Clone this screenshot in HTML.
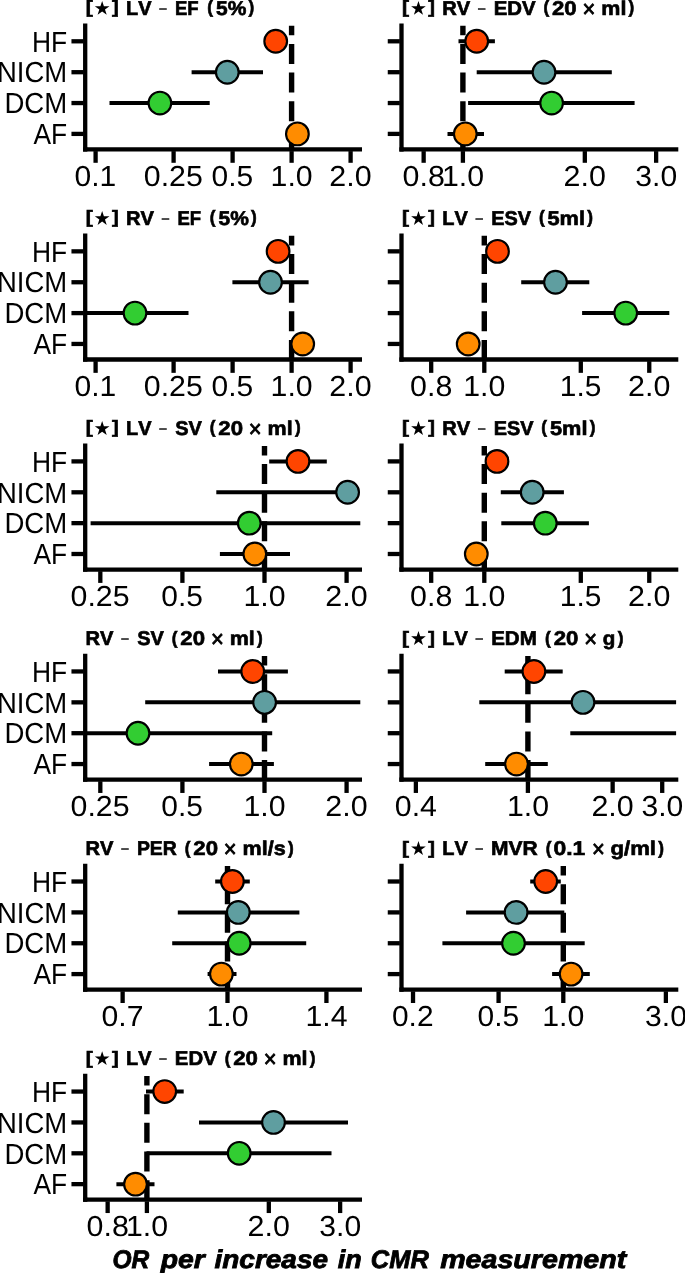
<!DOCTYPE html>
<html><head><meta charset="utf-8"><title>Forest plots</title>
<style>
html,body{margin:0;padding:0;background:#fff;}
svg{display:block;will-change:transform;}
text{font-family:"Liberation Sans",sans-serif;fill:#000;font-kerning:none;text-rendering:geometricPrecision;}
</style></head><body>
<svg width="685" height="1273" viewBox="0 0 685 1273">
<rect width="685" height="1273" fill="#fff"/>
<g>
<line x1="291.60" y1="149.90" x2="291.60" y2="25.80" stroke="#000" stroke-width="5.4" stroke-dasharray="20 8.64"/>
<clipPath id="c00"><rect x="85.20" y="20.00" width="276.80" height="135"/></clipPath>
<g clip-path="url(#c00)">
<line x1="191.60" y1="72.20" x2="263.00" y2="72.20" stroke="#000" stroke-width="4.0"/>
<line x1="109.50" y1="103.05" x2="209.70" y2="103.05" stroke="#000" stroke-width="4.0"/>
<circle cx="275.70" cy="41.30" r="11.35" fill="#ff4500" stroke="#000" stroke-width="2.15"/>
<circle cx="227.30" cy="72.20" r="11.35" fill="#5f9ea0" stroke="#000" stroke-width="2.15"/>
<circle cx="159.90" cy="103.05" r="11.35" fill="#32cd32" stroke="#000" stroke-width="2.15"/>
<circle cx="297.40" cy="133.90" r="11.35" fill="#ff8c00" stroke="#000" stroke-width="2.15"/>
</g>
<path d="M85.20 23.50V149.45H362.00" fill="none" stroke="#000" stroke-width="4.3" stroke-linecap="butt" stroke-linejoin="miter"/>
<rect x="83.05" y="147.30" width="4.3" height="4.3" fill="#000"/>
<line x1="71.45" y1="41.30" x2="83.55" y2="41.30" stroke="#000" stroke-width="4.3"/>
<text transform="translate(31.88,51.50) scale(0.9126,1)" font-size="28.93">HF</text>
<line x1="71.45" y1="72.20" x2="83.55" y2="72.20" stroke="#000" stroke-width="4.3"/>
<text transform="translate(-3.07,82.40) scale(0.9505,1)" font-size="28.93">NICM</text>
<line x1="71.45" y1="103.05" x2="83.55" y2="103.05" stroke="#000" stroke-width="4.3"/>
<text transform="translate(4.38,113.25) scale(0.9536,1)" font-size="28.93">DCM</text>
<line x1="71.45" y1="133.90" x2="83.55" y2="133.90" stroke="#000" stroke-width="4.3"/>
<text transform="translate(33.38,144.10) scale(0.9113,1)" font-size="28.93">AF</text>
<line x1="95.60" y1="151.10" x2="95.60" y2="162.80" stroke="#000" stroke-width="4.3"/>
<text transform="translate(74.52,185.90) scale(1.0379,1)" font-size="28.93">0.1</text>
<line x1="173.60" y1="151.10" x2="173.60" y2="162.80" stroke="#000" stroke-width="4.3"/>
<text transform="translate(143.82,185.90) scale(1.0490,1)" font-size="28.93">0.25</text>
<line x1="232.60" y1="151.10" x2="232.60" y2="162.80" stroke="#000" stroke-width="4.3"/>
<text transform="translate(211.52,185.90) scale(1.0360,1)" font-size="28.93">0.5</text>
<line x1="291.60" y1="151.10" x2="291.60" y2="162.80" stroke="#000" stroke-width="4.3"/>
<text transform="translate(270.58,185.90) scale(1.0468,1)" font-size="28.93">1.0</text>
<line x1="350.60" y1="151.10" x2="350.60" y2="162.80" stroke="#000" stroke-width="4.3"/>
<text transform="translate(329.36,185.90) scale(1.0525,1)" font-size="28.93">2.0</text>
<text transform="translate(85.64,13.35) scale(1.1715,1)" font-size="17.94" font-weight="bold" stroke="#000" stroke-width="0.64">[</text>
<text transform="translate(112.01,13.35) scale(1.1139,1)" font-size="17.94" font-weight="bold" stroke="#000" stroke-width="0.64">]</text>
<polygon points="94.80,6.21 100.41,6.21 102.15,0.88 103.90,6.21 109.50,6.21 104.97,9.51 106.71,14.83 102.15,11.54 97.60,14.83 99.33,9.51" fill="#000"/>
<text transform="translate(125.98,14.60) scale(1.0035,1)" font-size="19.87" font-weight="bold" stroke="#000" stroke-width="0.64">LV</text>
<text transform="translate(159.23,13.90) scale(0.6742,1)" font-size="19.87" stroke="#000" stroke-width="0.15">–</text>
<text transform="translate(174.94,14.60) scale(0.9313,1)" font-size="19.87" font-weight="bold" stroke="#000" stroke-width="0.64">EF</text>
<text transform="translate(207.37,13.35) scale(0.9570,1)" font-size="17.94" font-weight="bold" stroke="#000" stroke-width="0.64">(</text>
<text transform="translate(216.02,14.60) scale(1.0558,1)" font-size="19.87" font-weight="bold" stroke="#000" stroke-width="0.64">5%</text>
<text transform="translate(248.50,13.35) scale(0.9570,1)" font-size="17.94" font-weight="bold" stroke="#000" stroke-width="0.64">)</text>
</g>
<g>
<line x1="462.90" y1="149.90" x2="462.90" y2="25.80" stroke="#000" stroke-width="5.4" stroke-dasharray="20 8.64"/>
<clipPath id="c01"><rect x="401.50" y="20.00" width="276.80" height="135"/></clipPath>
<g clip-path="url(#c01)">
<line x1="458.50" y1="41.30" x2="494.90" y2="41.30" stroke="#000" stroke-width="4.0"/>
<line x1="476.70" y1="72.20" x2="611.80" y2="72.20" stroke="#000" stroke-width="4.0"/>
<line x1="468.10" y1="103.05" x2="634.60" y2="103.05" stroke="#000" stroke-width="4.0"/>
<line x1="447.50" y1="133.90" x2="484.00" y2="133.90" stroke="#000" stroke-width="4.0"/>
<circle cx="476.70" cy="41.30" r="11.35" fill="#ff4500" stroke="#000" stroke-width="2.15"/>
<circle cx="544.00" cy="72.20" r="11.35" fill="#5f9ea0" stroke="#000" stroke-width="2.15"/>
<circle cx="551.60" cy="103.05" r="11.35" fill="#32cd32" stroke="#000" stroke-width="2.15"/>
<circle cx="465.30" cy="133.90" r="11.35" fill="#ff8c00" stroke="#000" stroke-width="2.15"/>
</g>
<path d="M401.50 23.50V149.45H678.30" fill="none" stroke="#000" stroke-width="4.3" stroke-linecap="butt" stroke-linejoin="miter"/>
<rect x="399.35" y="147.30" width="4.3" height="4.3" fill="#000"/>
<line x1="387.75" y1="41.30" x2="399.85" y2="41.30" stroke="#000" stroke-width="4.3"/>
<line x1="387.75" y1="72.20" x2="399.85" y2="72.20" stroke="#000" stroke-width="4.3"/>
<line x1="387.75" y1="103.05" x2="399.85" y2="103.05" stroke="#000" stroke-width="4.3"/>
<line x1="387.75" y1="133.90" x2="399.85" y2="133.90" stroke="#000" stroke-width="4.3"/>
<line x1="423.65" y1="151.10" x2="423.65" y2="162.80" stroke="#000" stroke-width="4.3"/>
<text transform="translate(402.56,185.90) scale(1.0509,1)" font-size="28.93">0.8</text>
<line x1="462.90" y1="151.10" x2="462.90" y2="162.80" stroke="#000" stroke-width="4.3"/>
<text transform="translate(441.88,185.90) scale(1.0468,1)" font-size="28.93">1.0</text>
<line x1="584.82" y1="151.10" x2="584.82" y2="162.80" stroke="#000" stroke-width="4.3"/>
<text transform="translate(563.58,185.90) scale(1.0525,1)" font-size="28.93">2.0</text>
<line x1="656.13" y1="151.10" x2="656.13" y2="162.80" stroke="#000" stroke-width="4.3"/>
<text transform="translate(635.36,185.90) scale(1.0406,1)" font-size="28.93">3.0</text>
<text transform="translate(401.94,13.35) scale(1.1715,1)" font-size="17.94" font-weight="bold" stroke="#000" stroke-width="0.64">[</text>
<text transform="translate(428.31,13.35) scale(1.1139,1)" font-size="17.94" font-weight="bold" stroke="#000" stroke-width="0.64">]</text>
<polygon points="411.10,6.21 416.71,6.21 418.45,0.88 420.20,6.21 425.80,6.21 421.27,9.51 423.01,14.83 418.45,11.54 413.90,14.83 415.63,9.51" fill="#000"/>
<text transform="translate(442.27,14.60) scale(1.0136,1)" font-size="19.87" font-weight="bold" stroke="#000" stroke-width="0.64">RV</text>
<text transform="translate(478.02,13.90) scale(0.6742,1)" font-size="19.87" stroke="#000" stroke-width="0.15">–</text>
<text transform="translate(493.64,14.60) scale(1.0262,1)" font-size="19.87" font-weight="bold" stroke="#000" stroke-width="0.64">EDV</text>
<text transform="translate(543.43,13.35) scale(0.9570,1)" font-size="17.94" font-weight="bold" stroke="#000" stroke-width="0.64">(</text>
<text transform="translate(552.01,14.60) scale(1.1168,1)" font-size="19.87" font-weight="bold" stroke="#000" stroke-width="0.64">20</text>
<text transform="translate(582.52,16.90) scale(0.9116,1)" font-size="24.00" stroke="#000" stroke-width="0.90">×</text>
<text transform="translate(601.28,14.60) scale(1.0818,1)" font-size="19.87" font-weight="bold" stroke="#000" stroke-width="0.64">ml</text>
<text transform="translate(628.55,13.35) scale(0.9570,1)" font-size="17.94" font-weight="bold" stroke="#000" stroke-width="0.64">)</text>
</g>
<g>
<line x1="291.60" y1="359.95" x2="291.60" y2="235.85" stroke="#000" stroke-width="5.4" stroke-dasharray="20 8.64"/>
<clipPath id="c10"><rect x="85.20" y="230.05" width="276.80" height="135"/></clipPath>
<g clip-path="url(#c10)">
<line x1="232.40" y1="282.25" x2="308.60" y2="282.25" stroke="#000" stroke-width="4.0"/>
<line x1="60.00" y1="313.10" x2="188.50" y2="313.10" stroke="#000" stroke-width="4.0"/>
<circle cx="278.10" cy="251.35" r="11.35" fill="#ff4500" stroke="#000" stroke-width="2.15"/>
<circle cx="270.50" cy="282.25" r="11.35" fill="#5f9ea0" stroke="#000" stroke-width="2.15"/>
<circle cx="135.00" cy="313.10" r="11.35" fill="#32cd32" stroke="#000" stroke-width="2.15"/>
<circle cx="302.70" cy="343.95" r="11.35" fill="#ff8c00" stroke="#000" stroke-width="2.15"/>
</g>
<path d="M85.20 233.55V359.50H362.00" fill="none" stroke="#000" stroke-width="4.3" stroke-linecap="butt" stroke-linejoin="miter"/>
<rect x="83.05" y="357.35" width="4.3" height="4.3" fill="#000"/>
<line x1="71.45" y1="251.35" x2="83.55" y2="251.35" stroke="#000" stroke-width="4.3"/>
<text transform="translate(31.88,261.55) scale(0.9126,1)" font-size="28.93">HF</text>
<line x1="71.45" y1="282.25" x2="83.55" y2="282.25" stroke="#000" stroke-width="4.3"/>
<text transform="translate(-3.07,292.45) scale(0.9505,1)" font-size="28.93">NICM</text>
<line x1="71.45" y1="313.10" x2="83.55" y2="313.10" stroke="#000" stroke-width="4.3"/>
<text transform="translate(4.38,323.30) scale(0.9536,1)" font-size="28.93">DCM</text>
<line x1="71.45" y1="343.95" x2="83.55" y2="343.95" stroke="#000" stroke-width="4.3"/>
<text transform="translate(33.38,354.15) scale(0.9113,1)" font-size="28.93">AF</text>
<line x1="95.60" y1="361.15" x2="95.60" y2="372.85" stroke="#000" stroke-width="4.3"/>
<text transform="translate(74.52,395.95) scale(1.0379,1)" font-size="28.93">0.1</text>
<line x1="173.60" y1="361.15" x2="173.60" y2="372.85" stroke="#000" stroke-width="4.3"/>
<text transform="translate(143.82,395.95) scale(1.0490,1)" font-size="28.93">0.25</text>
<line x1="232.60" y1="361.15" x2="232.60" y2="372.85" stroke="#000" stroke-width="4.3"/>
<text transform="translate(211.52,395.95) scale(1.0360,1)" font-size="28.93">0.5</text>
<line x1="291.60" y1="361.15" x2="291.60" y2="372.85" stroke="#000" stroke-width="4.3"/>
<text transform="translate(270.58,395.95) scale(1.0468,1)" font-size="28.93">1.0</text>
<line x1="350.60" y1="361.15" x2="350.60" y2="372.85" stroke="#000" stroke-width="4.3"/>
<text transform="translate(329.36,395.95) scale(1.0525,1)" font-size="28.93">2.0</text>
<text transform="translate(85.64,223.40) scale(1.1715,1)" font-size="17.94" font-weight="bold" stroke="#000" stroke-width="0.64">[</text>
<text transform="translate(112.01,223.40) scale(1.1139,1)" font-size="17.94" font-weight="bold" stroke="#000" stroke-width="0.64">]</text>
<polygon points="94.80,216.26 100.41,216.26 102.15,210.93 103.90,216.26 109.50,216.26 104.97,219.56 106.71,224.88 102.15,221.59 97.60,224.88 99.33,219.56" fill="#000"/>
<text transform="translate(125.97,224.65) scale(1.0136,1)" font-size="19.87" font-weight="bold" stroke="#000" stroke-width="0.64">RV</text>
<text transform="translate(161.72,223.95) scale(0.6742,1)" font-size="19.87" stroke="#000" stroke-width="0.15">–</text>
<text transform="translate(177.44,224.65) scale(0.9313,1)" font-size="19.87" font-weight="bold" stroke="#000" stroke-width="0.64">EF</text>
<text transform="translate(209.86,223.40) scale(0.9570,1)" font-size="17.94" font-weight="bold" stroke="#000" stroke-width="0.64">(</text>
<text transform="translate(218.51,224.65) scale(1.0558,1)" font-size="19.87" font-weight="bold" stroke="#000" stroke-width="0.64">5%</text>
<text transform="translate(250.99,223.40) scale(0.9570,1)" font-size="17.94" font-weight="bold" stroke="#000" stroke-width="0.64">)</text>
</g>
<g>
<line x1="484.30" y1="359.95" x2="484.30" y2="235.85" stroke="#000" stroke-width="5.4" stroke-dasharray="20 8.64"/>
<clipPath id="c11"><rect x="401.50" y="230.05" width="276.80" height="135"/></clipPath>
<g clip-path="url(#c11)">
<line x1="521.20" y1="282.25" x2="589.30" y2="282.25" stroke="#000" stroke-width="4.0"/>
<line x1="582.10" y1="313.10" x2="669.30" y2="313.10" stroke="#000" stroke-width="4.0"/>
<circle cx="497.50" cy="251.35" r="11.35" fill="#ff4500" stroke="#000" stroke-width="2.15"/>
<circle cx="555.50" cy="282.25" r="11.35" fill="#5f9ea0" stroke="#000" stroke-width="2.15"/>
<circle cx="625.70" cy="313.10" r="11.35" fill="#32cd32" stroke="#000" stroke-width="2.15"/>
<circle cx="468.20" cy="343.95" r="11.35" fill="#ff8c00" stroke="#000" stroke-width="2.15"/>
</g>
<path d="M401.50 233.55V359.50H678.30" fill="none" stroke="#000" stroke-width="4.3" stroke-linecap="butt" stroke-linejoin="miter"/>
<rect x="399.35" y="357.35" width="4.3" height="4.3" fill="#000"/>
<line x1="387.75" y1="251.35" x2="399.85" y2="251.35" stroke="#000" stroke-width="4.3"/>
<line x1="387.75" y1="282.25" x2="399.85" y2="282.25" stroke="#000" stroke-width="4.3"/>
<line x1="387.75" y1="313.10" x2="399.85" y2="313.10" stroke="#000" stroke-width="4.3"/>
<line x1="387.75" y1="343.95" x2="399.85" y2="343.95" stroke="#000" stroke-width="4.3"/>
<line x1="431.19" y1="361.15" x2="431.19" y2="372.85" stroke="#000" stroke-width="4.3"/>
<text transform="translate(410.10,395.95) scale(1.0509,1)" font-size="28.93">0.8</text>
<line x1="484.30" y1="361.15" x2="484.30" y2="372.85" stroke="#000" stroke-width="4.3"/>
<text transform="translate(463.28,395.95) scale(1.0468,1)" font-size="28.93">1.0</text>
<line x1="580.80" y1="361.15" x2="580.80" y2="372.85" stroke="#000" stroke-width="4.3"/>
<text transform="translate(559.81,395.95) scale(1.0336,1)" font-size="28.93">1.5</text>
<line x1="649.26" y1="361.15" x2="649.26" y2="372.85" stroke="#000" stroke-width="4.3"/>
<text transform="translate(628.02,395.95) scale(1.0525,1)" font-size="28.93">2.0</text>
<text transform="translate(401.94,223.40) scale(1.1715,1)" font-size="17.94" font-weight="bold" stroke="#000" stroke-width="0.64">[</text>
<text transform="translate(428.31,223.40) scale(1.1139,1)" font-size="17.94" font-weight="bold" stroke="#000" stroke-width="0.64">]</text>
<polygon points="411.10,216.26 416.71,216.26 418.45,210.93 420.20,216.26 425.80,216.26 421.27,219.56 423.01,224.88 418.45,221.59 413.90,224.88 415.63,219.56" fill="#000"/>
<text transform="translate(442.28,224.65) scale(1.0035,1)" font-size="19.87" font-weight="bold" stroke="#000" stroke-width="0.64">LV</text>
<text transform="translate(475.53,223.95) scale(0.6742,1)" font-size="19.87" stroke="#000" stroke-width="0.15">–</text>
<text transform="translate(491.17,224.65) scale(1.0022,1)" font-size="19.87" font-weight="bold" stroke="#000" stroke-width="0.64">ESV</text>
<text transform="translate(538.88,223.40) scale(0.9570,1)" font-size="17.94" font-weight="bold" stroke="#000" stroke-width="0.64">(</text>
<text transform="translate(547.51,224.65) scale(1.0954,1)" font-size="19.87" font-weight="bold" stroke="#000" stroke-width="0.64">5ml</text>
<text transform="translate(587.19,223.40) scale(0.9570,1)" font-size="17.94" font-weight="bold" stroke="#000" stroke-width="0.64">)</text>
</g>
<g>
<line x1="264.50" y1="570.00" x2="264.50" y2="445.90" stroke="#000" stroke-width="5.4" stroke-dasharray="20 8.64"/>
<clipPath id="c20"><rect x="85.20" y="440.10" width="276.80" height="135"/></clipPath>
<g clip-path="url(#c20)">
<line x1="269.20" y1="461.40" x2="326.80" y2="461.40" stroke="#000" stroke-width="4.0"/>
<line x1="216.30" y1="492.30" x2="347.60" y2="492.30" stroke="#000" stroke-width="4.0"/>
<line x1="90.60" y1="523.15" x2="360.30" y2="523.15" stroke="#000" stroke-width="4.0"/>
<line x1="219.90" y1="554.00" x2="290.00" y2="554.00" stroke="#000" stroke-width="4.0"/>
<circle cx="298.00" cy="461.40" r="11.35" fill="#ff4500" stroke="#000" stroke-width="2.15"/>
<circle cx="347.60" cy="492.30" r="11.35" fill="#5f9ea0" stroke="#000" stroke-width="2.15"/>
<circle cx="249.30" cy="523.15" r="11.35" fill="#32cd32" stroke="#000" stroke-width="2.15"/>
<circle cx="254.80" cy="554.00" r="11.35" fill="#ff8c00" stroke="#000" stroke-width="2.15"/>
</g>
<path d="M85.20 443.60V569.55H362.00" fill="none" stroke="#000" stroke-width="4.3" stroke-linecap="butt" stroke-linejoin="miter"/>
<rect x="83.05" y="567.40" width="4.3" height="4.3" fill="#000"/>
<line x1="71.45" y1="461.40" x2="83.55" y2="461.40" stroke="#000" stroke-width="4.3"/>
<text transform="translate(31.88,471.60) scale(0.9126,1)" font-size="28.93">HF</text>
<line x1="71.45" y1="492.30" x2="83.55" y2="492.30" stroke="#000" stroke-width="4.3"/>
<text transform="translate(-3.07,502.50) scale(0.9505,1)" font-size="28.93">NICM</text>
<line x1="71.45" y1="523.15" x2="83.55" y2="523.15" stroke="#000" stroke-width="4.3"/>
<text transform="translate(4.38,533.35) scale(0.9536,1)" font-size="28.93">DCM</text>
<line x1="71.45" y1="554.00" x2="83.55" y2="554.00" stroke="#000" stroke-width="4.3"/>
<text transform="translate(33.38,564.20) scale(0.9113,1)" font-size="28.93">AF</text>
<line x1="100.32" y1="571.20" x2="100.32" y2="582.90" stroke="#000" stroke-width="4.3"/>
<text transform="translate(70.54,606.00) scale(1.0490,1)" font-size="28.93">0.25</text>
<line x1="182.41" y1="571.20" x2="182.41" y2="582.90" stroke="#000" stroke-width="4.3"/>
<text transform="translate(161.33,606.00) scale(1.0360,1)" font-size="28.93">0.5</text>
<line x1="264.50" y1="571.20" x2="264.50" y2="582.90" stroke="#000" stroke-width="4.3"/>
<text transform="translate(243.48,606.00) scale(1.0468,1)" font-size="28.93">1.0</text>
<line x1="346.59" y1="571.20" x2="346.59" y2="582.90" stroke="#000" stroke-width="4.3"/>
<text transform="translate(325.35,606.00) scale(1.0525,1)" font-size="28.93">2.0</text>
<text transform="translate(85.64,433.45) scale(1.1715,1)" font-size="17.94" font-weight="bold" stroke="#000" stroke-width="0.64">[</text>
<text transform="translate(112.01,433.45) scale(1.1139,1)" font-size="17.94" font-weight="bold" stroke="#000" stroke-width="0.64">]</text>
<polygon points="94.80,426.31 100.41,426.31 102.15,420.98 103.90,426.31 109.50,426.31 104.97,429.61 106.71,434.93 102.15,431.64 97.60,434.93 99.33,429.61" fill="#000"/>
<text transform="translate(125.98,434.70) scale(1.0035,1)" font-size="19.87" font-weight="bold" stroke="#000" stroke-width="0.64">LV</text>
<text transform="translate(159.23,434.00) scale(0.6742,1)" font-size="19.87" stroke="#000" stroke-width="0.15">–</text>
<text transform="translate(175.26,434.70) scale(1.0055,1)" font-size="19.87" font-weight="bold" stroke="#000" stroke-width="0.64">SV</text>
<text transform="translate(209.77,433.45) scale(0.9570,1)" font-size="17.94" font-weight="bold" stroke="#000" stroke-width="0.64">(</text>
<text transform="translate(218.35,434.70) scale(1.1168,1)" font-size="19.87" font-weight="bold" stroke="#000" stroke-width="0.64">20</text>
<text transform="translate(248.86,437.00) scale(0.9116,1)" font-size="24.00" stroke="#000" stroke-width="0.90">×</text>
<text transform="translate(267.62,434.70) scale(1.0818,1)" font-size="19.87" font-weight="bold" stroke="#000" stroke-width="0.64">ml</text>
<text transform="translate(294.89,433.45) scale(0.9570,1)" font-size="17.94" font-weight="bold" stroke="#000" stroke-width="0.64">)</text>
</g>
<g>
<line x1="484.30" y1="570.00" x2="484.30" y2="445.90" stroke="#000" stroke-width="5.4" stroke-dasharray="20 8.64"/>
<clipPath id="c21"><rect x="401.50" y="440.10" width="276.80" height="135"/></clipPath>
<g clip-path="url(#c21)">
<line x1="500.80" y1="492.30" x2="563.90" y2="492.30" stroke="#000" stroke-width="4.0"/>
<line x1="501.30" y1="523.15" x2="588.90" y2="523.15" stroke="#000" stroke-width="4.0"/>
<circle cx="497.00" cy="461.40" r="11.35" fill="#ff4500" stroke="#000" stroke-width="2.15"/>
<circle cx="532.20" cy="492.30" r="11.35" fill="#5f9ea0" stroke="#000" stroke-width="2.15"/>
<circle cx="545.30" cy="523.15" r="11.35" fill="#32cd32" stroke="#000" stroke-width="2.15"/>
<circle cx="476.30" cy="554.00" r="11.35" fill="#ff8c00" stroke="#000" stroke-width="2.15"/>
</g>
<path d="M401.50 443.60V569.55H678.30" fill="none" stroke="#000" stroke-width="4.3" stroke-linecap="butt" stroke-linejoin="miter"/>
<rect x="399.35" y="567.40" width="4.3" height="4.3" fill="#000"/>
<line x1="387.75" y1="461.40" x2="399.85" y2="461.40" stroke="#000" stroke-width="4.3"/>
<line x1="387.75" y1="492.30" x2="399.85" y2="492.30" stroke="#000" stroke-width="4.3"/>
<line x1="387.75" y1="523.15" x2="399.85" y2="523.15" stroke="#000" stroke-width="4.3"/>
<line x1="387.75" y1="554.00" x2="399.85" y2="554.00" stroke="#000" stroke-width="4.3"/>
<line x1="431.19" y1="571.20" x2="431.19" y2="582.90" stroke="#000" stroke-width="4.3"/>
<text transform="translate(410.10,606.00) scale(1.0509,1)" font-size="28.93">0.8</text>
<line x1="484.30" y1="571.20" x2="484.30" y2="582.90" stroke="#000" stroke-width="4.3"/>
<text transform="translate(463.28,606.00) scale(1.0468,1)" font-size="28.93">1.0</text>
<line x1="580.80" y1="571.20" x2="580.80" y2="582.90" stroke="#000" stroke-width="4.3"/>
<text transform="translate(559.81,606.00) scale(1.0336,1)" font-size="28.93">1.5</text>
<line x1="649.26" y1="571.20" x2="649.26" y2="582.90" stroke="#000" stroke-width="4.3"/>
<text transform="translate(628.02,606.00) scale(1.0525,1)" font-size="28.93">2.0</text>
<text transform="translate(401.94,433.45) scale(1.1715,1)" font-size="17.94" font-weight="bold" stroke="#000" stroke-width="0.64">[</text>
<text transform="translate(428.31,433.45) scale(1.1139,1)" font-size="17.94" font-weight="bold" stroke="#000" stroke-width="0.64">]</text>
<polygon points="411.10,426.31 416.71,426.31 418.45,420.98 420.20,426.31 425.80,426.31 421.27,429.61 423.01,434.93 418.45,431.64 413.90,434.93 415.63,429.61" fill="#000"/>
<text transform="translate(442.27,434.70) scale(1.0136,1)" font-size="19.87" font-weight="bold" stroke="#000" stroke-width="0.64">RV</text>
<text transform="translate(478.02,434.00) scale(0.6742,1)" font-size="19.87" stroke="#000" stroke-width="0.15">–</text>
<text transform="translate(493.66,434.70) scale(1.0022,1)" font-size="19.87" font-weight="bold" stroke="#000" stroke-width="0.64">ESV</text>
<text transform="translate(541.37,433.45) scale(0.9570,1)" font-size="17.94" font-weight="bold" stroke="#000" stroke-width="0.64">(</text>
<text transform="translate(550.00,434.70) scale(1.0954,1)" font-size="19.87" font-weight="bold" stroke="#000" stroke-width="0.64">5ml</text>
<text transform="translate(589.68,433.45) scale(0.9570,1)" font-size="17.94" font-weight="bold" stroke="#000" stroke-width="0.64">)</text>
</g>
<g>
<line x1="264.50" y1="780.05" x2="264.50" y2="655.95" stroke="#000" stroke-width="5.4" stroke-dasharray="20 8.64"/>
<clipPath id="c30"><rect x="85.20" y="650.15" width="276.80" height="135"/></clipPath>
<g clip-path="url(#c30)">
<line x1="218.00" y1="671.45" x2="287.90" y2="671.45" stroke="#000" stroke-width="4.0"/>
<line x1="145.20" y1="702.35" x2="360.30" y2="702.35" stroke="#000" stroke-width="4.0"/>
<line x1="60.00" y1="733.20" x2="272.20" y2="733.20" stroke="#000" stroke-width="4.0"/>
<line x1="209.10" y1="764.05" x2="273.90" y2="764.05" stroke="#000" stroke-width="4.0"/>
<circle cx="252.70" cy="671.45" r="11.35" fill="#ff4500" stroke="#000" stroke-width="2.15"/>
<circle cx="264.60" cy="702.35" r="11.35" fill="#5f9ea0" stroke="#000" stroke-width="2.15"/>
<circle cx="138.00" cy="733.20" r="11.35" fill="#32cd32" stroke="#000" stroke-width="2.15"/>
<circle cx="241.30" cy="764.05" r="11.35" fill="#ff8c00" stroke="#000" stroke-width="2.15"/>
</g>
<path d="M85.20 653.65V779.60H362.00" fill="none" stroke="#000" stroke-width="4.3" stroke-linecap="butt" stroke-linejoin="miter"/>
<rect x="83.05" y="777.45" width="4.3" height="4.3" fill="#000"/>
<line x1="71.45" y1="671.45" x2="83.55" y2="671.45" stroke="#000" stroke-width="4.3"/>
<text transform="translate(31.88,681.65) scale(0.9126,1)" font-size="28.93">HF</text>
<line x1="71.45" y1="702.35" x2="83.55" y2="702.35" stroke="#000" stroke-width="4.3"/>
<text transform="translate(-3.07,712.55) scale(0.9505,1)" font-size="28.93">NICM</text>
<line x1="71.45" y1="733.20" x2="83.55" y2="733.20" stroke="#000" stroke-width="4.3"/>
<text transform="translate(4.38,743.40) scale(0.9536,1)" font-size="28.93">DCM</text>
<line x1="71.45" y1="764.05" x2="83.55" y2="764.05" stroke="#000" stroke-width="4.3"/>
<text transform="translate(33.38,774.25) scale(0.9113,1)" font-size="28.93">AF</text>
<line x1="100.32" y1="781.25" x2="100.32" y2="792.95" stroke="#000" stroke-width="4.3"/>
<text transform="translate(70.54,816.05) scale(1.0490,1)" font-size="28.93">0.25</text>
<line x1="182.41" y1="781.25" x2="182.41" y2="792.95" stroke="#000" stroke-width="4.3"/>
<text transform="translate(161.33,816.05) scale(1.0360,1)" font-size="28.93">0.5</text>
<line x1="264.50" y1="781.25" x2="264.50" y2="792.95" stroke="#000" stroke-width="4.3"/>
<text transform="translate(243.48,816.05) scale(1.0468,1)" font-size="28.93">1.0</text>
<line x1="346.59" y1="781.25" x2="346.59" y2="792.95" stroke="#000" stroke-width="4.3"/>
<text transform="translate(325.35,816.05) scale(1.0525,1)" font-size="28.93">2.0</text>
<text transform="translate(85.50,644.75) scale(1.0136,1)" font-size="19.87" font-weight="bold" stroke="#000" stroke-width="0.64">RV</text>
<text transform="translate(121.24,644.05) scale(0.6742,1)" font-size="19.87" stroke="#000" stroke-width="0.15">–</text>
<text transform="translate(137.27,644.75) scale(1.0055,1)" font-size="19.87" font-weight="bold" stroke="#000" stroke-width="0.64">SV</text>
<text transform="translate(171.78,643.50) scale(0.9570,1)" font-size="17.94" font-weight="bold" stroke="#000" stroke-width="0.64">(</text>
<text transform="translate(180.36,644.75) scale(1.1168,1)" font-size="19.87" font-weight="bold" stroke="#000" stroke-width="0.64">20</text>
<text transform="translate(210.88,647.05) scale(0.9116,1)" font-size="24.00" stroke="#000" stroke-width="0.90">×</text>
<text transform="translate(229.63,644.75) scale(1.0818,1)" font-size="19.87" font-weight="bold" stroke="#000" stroke-width="0.64">ml</text>
<text transform="translate(256.90,643.50) scale(0.9570,1)" font-size="17.94" font-weight="bold" stroke="#000" stroke-width="0.64">)</text>
</g>
<g>
<line x1="527.90" y1="780.05" x2="527.90" y2="655.95" stroke="#000" stroke-width="5.4" stroke-dasharray="20 8.64"/>
<clipPath id="c31"><rect x="401.50" y="650.15" width="276.80" height="135"/></clipPath>
<g clip-path="url(#c31)">
<line x1="504.70" y1="671.45" x2="562.70" y2="671.45" stroke="#000" stroke-width="4.0"/>
<line x1="479.30" y1="702.35" x2="676.10" y2="702.35" stroke="#000" stroke-width="4.0"/>
<line x1="570.30" y1="733.20" x2="676.10" y2="733.20" stroke="#000" stroke-width="4.0"/>
<line x1="485.20" y1="764.05" x2="547.80" y2="764.05" stroke="#000" stroke-width="4.0"/>
<circle cx="533.90" cy="671.45" r="11.35" fill="#ff4500" stroke="#000" stroke-width="2.15"/>
<circle cx="583.00" cy="702.35" r="11.35" fill="#5f9ea0" stroke="#000" stroke-width="2.15"/>
<circle cx="516.50" cy="764.05" r="11.35" fill="#ff8c00" stroke="#000" stroke-width="2.15"/>
</g>
<path d="M401.50 653.65V779.60H678.30" fill="none" stroke="#000" stroke-width="4.3" stroke-linecap="butt" stroke-linejoin="miter"/>
<rect x="399.35" y="777.45" width="4.3" height="4.3" fill="#000"/>
<line x1="387.75" y1="671.45" x2="399.85" y2="671.45" stroke="#000" stroke-width="4.3"/>
<line x1="387.75" y1="702.35" x2="399.85" y2="702.35" stroke="#000" stroke-width="4.3"/>
<line x1="387.75" y1="733.20" x2="399.85" y2="733.20" stroke="#000" stroke-width="4.3"/>
<line x1="387.75" y1="764.05" x2="399.85" y2="764.05" stroke="#000" stroke-width="4.3"/>
<line x1="415.88" y1="781.25" x2="415.88" y2="792.95" stroke="#000" stroke-width="4.3"/>
<text transform="translate(394.79,816.05) scale(1.0483,1)" font-size="28.93">0.4</text>
<line x1="527.90" y1="781.25" x2="527.90" y2="792.95" stroke="#000" stroke-width="4.3"/>
<text transform="translate(506.88,816.05) scale(1.0468,1)" font-size="28.93">1.0</text>
<line x1="612.64" y1="781.25" x2="612.64" y2="792.95" stroke="#000" stroke-width="4.3"/>
<text transform="translate(591.40,816.05) scale(1.0525,1)" font-size="28.93">2.0</text>
<line x1="662.21" y1="781.25" x2="662.21" y2="792.95" stroke="#000" stroke-width="4.3"/>
<text transform="translate(641.43,816.05) scale(1.0406,1)" font-size="28.93">3.0</text>
<text transform="translate(401.94,643.50) scale(1.1715,1)" font-size="17.94" font-weight="bold" stroke="#000" stroke-width="0.64">[</text>
<text transform="translate(428.31,643.50) scale(1.1139,1)" font-size="17.94" font-weight="bold" stroke="#000" stroke-width="0.64">]</text>
<polygon points="411.10,636.36 416.71,636.36 418.45,631.03 420.20,636.36 425.80,636.36 421.27,639.66 423.01,644.98 418.45,641.69 413.90,644.98 415.63,639.66" fill="#000"/>
<text transform="translate(442.28,644.75) scale(1.0035,1)" font-size="19.87" font-weight="bold" stroke="#000" stroke-width="0.64">LV</text>
<text transform="translate(475.53,644.05) scale(0.6742,1)" font-size="19.87" stroke="#000" stroke-width="0.15">–</text>
<text transform="translate(491.14,644.75) scale(1.0344,1)" font-size="19.87" font-weight="bold" stroke="#000" stroke-width="0.64">EDM</text>
<text transform="translate(545.08,643.50) scale(0.9570,1)" font-size="17.94" font-weight="bold" stroke="#000" stroke-width="0.64">(</text>
<text transform="translate(553.66,644.75) scale(1.1168,1)" font-size="19.87" font-weight="bold" stroke="#000" stroke-width="0.64">20</text>
<text transform="translate(584.18,647.05) scale(0.9116,1)" font-size="24.00" stroke="#000" stroke-width="0.90">×</text>
<text transform="translate(602.78,644.75) scale(1.0353,1)" font-size="19.87" font-weight="bold" stroke="#000" stroke-width="0.64">g</text>
<text transform="translate(617.66,643.50) scale(0.9570,1)" font-size="17.94" font-weight="bold" stroke="#000" stroke-width="0.64">)</text>
</g>
<g>
<line x1="227.50" y1="990.10" x2="227.50" y2="866.00" stroke="#000" stroke-width="5.4" stroke-dasharray="20 8.64"/>
<clipPath id="c40"><rect x="85.20" y="860.20" width="276.80" height="135"/></clipPath>
<g clip-path="url(#c40)">
<line x1="215.20" y1="881.50" x2="249.80" y2="881.50" stroke="#000" stroke-width="4.0"/>
<line x1="177.80" y1="912.40" x2="299.40" y2="912.40" stroke="#000" stroke-width="4.0"/>
<line x1="172.20" y1="943.25" x2="306.20" y2="943.25" stroke="#000" stroke-width="4.0"/>
<line x1="207.60" y1="974.10" x2="236.50" y2="974.10" stroke="#000" stroke-width="4.0"/>
<circle cx="232.40" cy="881.50" r="11.35" fill="#ff4500" stroke="#000" stroke-width="2.15"/>
<circle cx="238.30" cy="912.40" r="11.35" fill="#5f9ea0" stroke="#000" stroke-width="2.15"/>
<circle cx="239.20" cy="943.25" r="11.35" fill="#32cd32" stroke="#000" stroke-width="2.15"/>
<circle cx="221.40" cy="974.10" r="11.35" fill="#ff8c00" stroke="#000" stroke-width="2.15"/>
</g>
<path d="M85.20 863.70V989.65H362.00" fill="none" stroke="#000" stroke-width="4.3" stroke-linecap="butt" stroke-linejoin="miter"/>
<rect x="83.05" y="987.50" width="4.3" height="4.3" fill="#000"/>
<line x1="71.45" y1="881.50" x2="83.55" y2="881.50" stroke="#000" stroke-width="4.3"/>
<text transform="translate(31.88,891.70) scale(0.9126,1)" font-size="28.93">HF</text>
<line x1="71.45" y1="912.40" x2="83.55" y2="912.40" stroke="#000" stroke-width="4.3"/>
<text transform="translate(-3.07,922.60) scale(0.9505,1)" font-size="28.93">NICM</text>
<line x1="71.45" y1="943.25" x2="83.55" y2="943.25" stroke="#000" stroke-width="4.3"/>
<text transform="translate(4.38,953.45) scale(0.9536,1)" font-size="28.93">DCM</text>
<line x1="71.45" y1="974.10" x2="83.55" y2="974.10" stroke="#000" stroke-width="4.3"/>
<text transform="translate(33.38,984.30) scale(0.9113,1)" font-size="28.93">AF</text>
<line x1="122.63" y1="991.30" x2="122.63" y2="1003.00" stroke="#000" stroke-width="4.3"/>
<text transform="translate(101.54,1026.10) scale(1.0440,1)" font-size="28.93">0.7</text>
<line x1="227.50" y1="991.30" x2="227.50" y2="1003.00" stroke="#000" stroke-width="4.3"/>
<text transform="translate(206.48,1026.10) scale(1.0468,1)" font-size="28.93">1.0</text>
<line x1="326.43" y1="991.30" x2="326.43" y2="1003.00" stroke="#000" stroke-width="4.3"/>
<text transform="translate(305.41,1026.10) scale(1.0463,1)" font-size="28.93">1.4</text>
<text transform="translate(85.50,854.80) scale(1.0136,1)" font-size="19.87" font-weight="bold" stroke="#000" stroke-width="0.64">RV</text>
<text transform="translate(121.24,854.10) scale(0.6742,1)" font-size="19.87" stroke="#000" stroke-width="0.15">–</text>
<text transform="translate(136.91,854.80) scale(0.9784,1)" font-size="19.87" font-weight="bold" stroke="#000" stroke-width="0.64">PER</text>
<text transform="translate(184.76,853.55) scale(0.9570,1)" font-size="17.94" font-weight="bold" stroke="#000" stroke-width="0.64">(</text>
<text transform="translate(193.33,854.80) scale(1.1168,1)" font-size="19.87" font-weight="bold" stroke="#000" stroke-width="0.64">20</text>
<text transform="translate(223.85,857.10) scale(0.9116,1)" font-size="24.00" stroke="#000" stroke-width="0.90">×</text>
<text transform="translate(242.60,854.80) scale(1.0852,1)" font-size="19.87" font-weight="bold" stroke="#000" stroke-width="0.64">ml/s</text>
<text transform="translate(287.89,853.55) scale(0.9570,1)" font-size="17.94" font-weight="bold" stroke="#000" stroke-width="0.64">)</text>
</g>
<g>
<line x1="563.30" y1="990.10" x2="563.30" y2="866.00" stroke="#000" stroke-width="5.4" stroke-dasharray="20 8.64"/>
<clipPath id="c41"><rect x="401.50" y="860.20" width="276.80" height="135"/></clipPath>
<g clip-path="url(#c41)">
<line x1="530.20" y1="881.50" x2="560.80" y2="881.50" stroke="#000" stroke-width="4.0"/>
<line x1="466.10" y1="912.40" x2="564.30" y2="912.40" stroke="#000" stroke-width="4.0"/>
<line x1="442.40" y1="943.25" x2="584.70" y2="943.25" stroke="#000" stroke-width="4.0"/>
<line x1="552.10" y1="974.10" x2="589.80" y2="974.10" stroke="#000" stroke-width="4.0"/>
<circle cx="545.70" cy="881.50" r="11.35" fill="#ff4500" stroke="#000" stroke-width="2.15"/>
<circle cx="516.10" cy="912.40" r="11.35" fill="#5f9ea0" stroke="#000" stroke-width="2.15"/>
<circle cx="513.50" cy="943.25" r="11.35" fill="#32cd32" stroke="#000" stroke-width="2.15"/>
<circle cx="571.10" cy="974.10" r="11.35" fill="#ff8c00" stroke="#000" stroke-width="2.15"/>
</g>
<path d="M401.50 863.70V989.65H678.30" fill="none" stroke="#000" stroke-width="4.3" stroke-linecap="butt" stroke-linejoin="miter"/>
<rect x="399.35" y="987.50" width="4.3" height="4.3" fill="#000"/>
<line x1="387.75" y1="881.50" x2="399.85" y2="881.50" stroke="#000" stroke-width="4.3"/>
<line x1="387.75" y1="912.40" x2="399.85" y2="912.40" stroke="#000" stroke-width="4.3"/>
<line x1="387.75" y1="943.25" x2="399.85" y2="943.25" stroke="#000" stroke-width="4.3"/>
<line x1="387.75" y1="974.10" x2="399.85" y2="974.10" stroke="#000" stroke-width="4.3"/>
<line x1="413.02" y1="991.30" x2="413.02" y2="1003.00" stroke="#000" stroke-width="4.3"/>
<text transform="translate(391.95,1026.10) scale(1.0334,1)" font-size="28.93">0.2</text>
<line x1="498.58" y1="991.30" x2="498.58" y2="1003.00" stroke="#000" stroke-width="4.3"/>
<text transform="translate(477.50,1026.10) scale(1.0360,1)" font-size="28.93">0.5</text>
<line x1="563.30" y1="991.30" x2="563.30" y2="1003.00" stroke="#000" stroke-width="4.3"/>
<text transform="translate(542.28,1026.10) scale(1.0468,1)" font-size="28.93">1.0</text>
<line x1="665.88" y1="991.30" x2="665.88" y2="1003.00" stroke="#000" stroke-width="4.3"/>
<text transform="translate(645.11,1026.10) scale(1.0406,1)" font-size="28.93">3.0</text>
<text transform="translate(401.94,853.55) scale(1.1715,1)" font-size="17.94" font-weight="bold" stroke="#000" stroke-width="0.64">[</text>
<text transform="translate(428.31,853.55) scale(1.1139,1)" font-size="17.94" font-weight="bold" stroke="#000" stroke-width="0.64">]</text>
<polygon points="411.10,846.41 416.71,846.41 418.45,841.08 420.20,846.41 425.80,846.41 421.27,849.71 423.01,855.03 418.45,851.74 413.90,855.03 415.63,849.71" fill="#000"/>
<text transform="translate(442.28,854.80) scale(1.0035,1)" font-size="19.87" font-weight="bold" stroke="#000" stroke-width="0.64">LV</text>
<text transform="translate(475.53,854.10) scale(0.6742,1)" font-size="19.87" stroke="#000" stroke-width="0.15">–</text>
<text transform="translate(491.12,854.80) scale(1.0572,1)" font-size="19.87" font-weight="bold" stroke="#000" stroke-width="0.64">MVR</text>
<text transform="translate(545.66,853.55) scale(0.9570,1)" font-size="17.94" font-weight="bold" stroke="#000" stroke-width="0.64">(</text>
<text transform="translate(553.53,854.80) scale(1.1527,1)" font-size="19.87" font-weight="bold" stroke="#000" stroke-width="0.64">0.1</text>
<text transform="translate(591.88,857.10) scale(0.9116,1)" font-size="24.00" stroke="#000" stroke-width="0.90">×</text>
<text transform="translate(610.44,854.80) scale(1.1162,1)" font-size="19.87" font-weight="bold" stroke="#000" stroke-width="0.64">g/ml</text>
<text transform="translate(658.17,853.55) scale(0.9570,1)" font-size="17.94" font-weight="bold" stroke="#000" stroke-width="0.64">)</text>
</g>
<g>
<line x1="146.90" y1="1200.15" x2="146.90" y2="1076.05" stroke="#000" stroke-width="5.4" stroke-dasharray="20 8.64"/>
<clipPath id="c50"><rect x="85.20" y="1070.25" width="276.80" height="135"/></clipPath>
<g clip-path="url(#c50)">
<line x1="146.00" y1="1091.55" x2="183.70" y2="1091.55" stroke="#000" stroke-width="4.0"/>
<line x1="199.00" y1="1122.45" x2="348.00" y2="1122.45" stroke="#000" stroke-width="4.0"/>
<line x1="146.50" y1="1153.30" x2="331.50" y2="1153.30" stroke="#000" stroke-width="4.0"/>
<line x1="116.40" y1="1184.15" x2="154.50" y2="1184.15" stroke="#000" stroke-width="4.0"/>
<circle cx="164.70" cy="1091.55" r="11.35" fill="#ff4500" stroke="#000" stroke-width="2.15"/>
<circle cx="273.50" cy="1122.45" r="11.35" fill="#5f9ea0" stroke="#000" stroke-width="2.15"/>
<circle cx="239.20" cy="1153.30" r="11.35" fill="#32cd32" stroke="#000" stroke-width="2.15"/>
<circle cx="135.50" cy="1184.15" r="11.35" fill="#ff8c00" stroke="#000" stroke-width="2.15"/>
</g>
<path d="M85.20 1073.75V1199.70H362.00" fill="none" stroke="#000" stroke-width="4.3" stroke-linecap="butt" stroke-linejoin="miter"/>
<rect x="83.05" y="1197.55" width="4.3" height="4.3" fill="#000"/>
<line x1="71.45" y1="1091.55" x2="83.55" y2="1091.55" stroke="#000" stroke-width="4.3"/>
<text transform="translate(31.88,1101.75) scale(0.9126,1)" font-size="28.93">HF</text>
<line x1="71.45" y1="1122.45" x2="83.55" y2="1122.45" stroke="#000" stroke-width="4.3"/>
<text transform="translate(-3.07,1132.65) scale(0.9505,1)" font-size="28.93">NICM</text>
<line x1="71.45" y1="1153.30" x2="83.55" y2="1153.30" stroke="#000" stroke-width="4.3"/>
<text transform="translate(4.38,1163.50) scale(0.9536,1)" font-size="28.93">DCM</text>
<line x1="71.45" y1="1184.15" x2="83.55" y2="1184.15" stroke="#000" stroke-width="4.3"/>
<text transform="translate(33.38,1194.35) scale(0.9113,1)" font-size="28.93">AF</text>
<line x1="107.65" y1="1201.35" x2="107.65" y2="1213.05" stroke="#000" stroke-width="4.3"/>
<text transform="translate(86.56,1236.15) scale(1.0509,1)" font-size="28.93">0.8</text>
<line x1="146.90" y1="1201.35" x2="146.90" y2="1213.05" stroke="#000" stroke-width="4.3"/>
<text transform="translate(125.88,1236.15) scale(1.0468,1)" font-size="28.93">1.0</text>
<line x1="268.82" y1="1201.35" x2="268.82" y2="1213.05" stroke="#000" stroke-width="4.3"/>
<text transform="translate(247.58,1236.15) scale(1.0525,1)" font-size="28.93">2.0</text>
<line x1="340.13" y1="1201.35" x2="340.13" y2="1213.05" stroke="#000" stroke-width="4.3"/>
<text transform="translate(319.36,1236.15) scale(1.0406,1)" font-size="28.93">3.0</text>
<text transform="translate(85.64,1063.60) scale(1.1715,1)" font-size="17.94" font-weight="bold" stroke="#000" stroke-width="0.64">[</text>
<text transform="translate(112.01,1063.60) scale(1.1139,1)" font-size="17.94" font-weight="bold" stroke="#000" stroke-width="0.64">]</text>
<polygon points="94.80,1056.46 100.41,1056.46 102.15,1051.13 103.90,1056.46 109.50,1056.46 104.97,1059.76 106.71,1065.08 102.15,1061.79 97.60,1065.08 99.33,1059.76" fill="#000"/>
<text transform="translate(125.98,1064.85) scale(1.0035,1)" font-size="19.87" font-weight="bold" stroke="#000" stroke-width="0.64">LV</text>
<text transform="translate(159.23,1064.15) scale(0.6742,1)" font-size="19.87" stroke="#000" stroke-width="0.15">–</text>
<text transform="translate(174.85,1064.85) scale(1.0262,1)" font-size="19.87" font-weight="bold" stroke="#000" stroke-width="0.64">EDV</text>
<text transform="translate(224.64,1063.60) scale(0.9570,1)" font-size="17.94" font-weight="bold" stroke="#000" stroke-width="0.64">(</text>
<text transform="translate(233.21,1064.85) scale(1.1168,1)" font-size="19.87" font-weight="bold" stroke="#000" stroke-width="0.64">20</text>
<text transform="translate(263.73,1067.15) scale(0.9116,1)" font-size="24.00" stroke="#000" stroke-width="0.90">×</text>
<text transform="translate(282.49,1064.85) scale(1.0818,1)" font-size="19.87" font-weight="bold" stroke="#000" stroke-width="0.64">ml</text>
<text transform="translate(309.76,1063.60) scale(0.9570,1)" font-size="17.94" font-weight="bold" stroke="#000" stroke-width="0.64">)</text>
</g>
<text transform="translate(112.50,1267.80) scale(0.9582,1)" font-size="25.54" font-weight="bold" font-style="italic" stroke="#000" stroke-width="0.82">OR</text>
<text transform="translate(160.71,1267.80) scale(1.1108,1)" font-size="25.54" font-weight="bold" font-style="italic" stroke="#000" stroke-width="0.82">per</text>
<text transform="translate(214.45,1267.80) scale(1.0960,1)" font-size="25.54" font-weight="bold" font-style="italic" stroke="#000" stroke-width="0.82">increase</text>
<text transform="translate(337.73,1267.80) scale(1.0578,1)" font-size="25.54" font-weight="bold" font-style="italic" stroke="#000" stroke-width="0.82">in</text>
<text transform="translate(370.86,1267.80) scale(0.9958,1)" font-size="25.54" font-weight="bold" font-style="italic" stroke="#000" stroke-width="0.82">CMR</text>
<text transform="translate(440.15,1267.80) scale(1.1212,1)" font-size="25.54" font-weight="bold" font-style="italic" stroke="#000" stroke-width="0.82">measurement</text>
</svg>
</body></html>
